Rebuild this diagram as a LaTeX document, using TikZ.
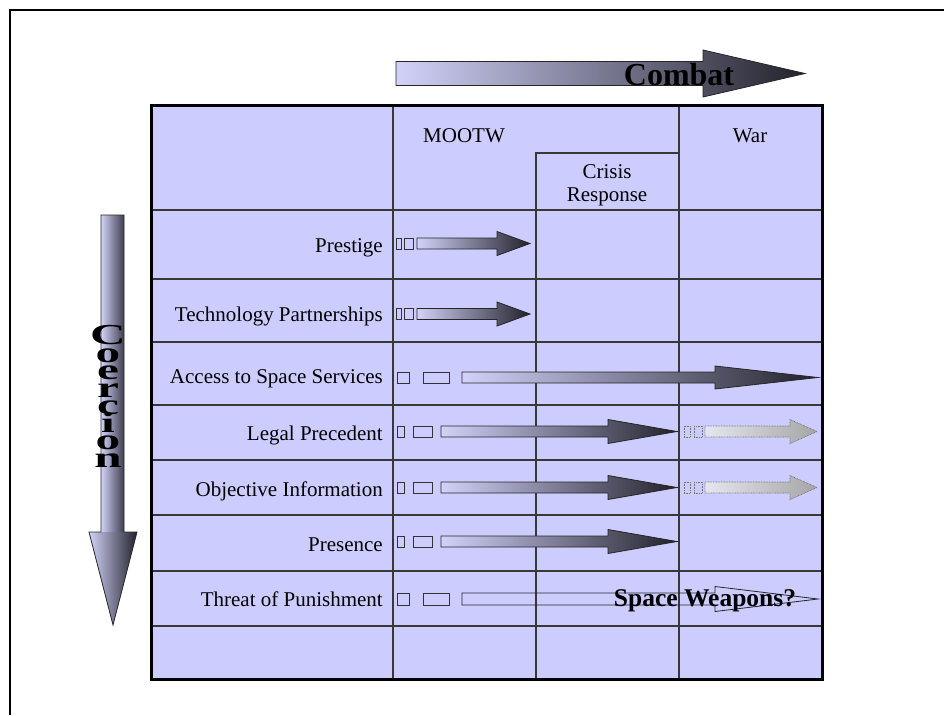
\documentclass[tikz,border=0pt]{standalone}
\usepackage{fontspec}
\setmainfont{Liberation Serif}
\definecolor{lav}{HTML}{CCCCFF}
\definecolor{lavl}{HTML}{D2D2FA}
\definecolor{dk}{HTML}{22222C}
\definecolor{gl}{HTML}{E6E6F0}
\definecolor{gd}{HTML}{A6A6A6}
\newcommand\harrow[7]{\path[#1] (#2,{#5-#6}) -- (#3,{#5-#6}) -- (#3,{#5-#7}) -- (#4,#5) -- (#3,{#5+#7}) -- (#3,{#5+#6}) -- (#2,{#5+#6}) -- cycle;}
\tikzset{
  gridline/.style={draw=black!78, line width=1.3pt},
  sq/.style={draw=black!80, line width=0.8pt},
  gsq/.style={draw=black!55, line width=0.7pt, dash pattern=on 0.8pt off 0.8pt},
  grad/.style={left color=lavl, right color=dk, draw=black!85, line width=0.8pt},
  ggrad/.style={left color=gl, right color=gd, draw=black!55, line width=0.7pt, dash pattern=on 0.8pt off 0.8pt},
  hollow/.style={draw=black!85, line width=0.8pt},
  lbl/.style={font=\fontsize{21}{24}\selectfont, inner sep=0pt, anchor=base east},
  hdr/.style={font=\fontsize{21}{24}\selectfont, inner sep=0pt, anchor=base},
  coer/.style={font={\bfseries\fontsize{29}{17.5}\selectfont\lineskiplimit=-100pt}, inner sep=0pt, align=center, xscale=1.7},
}
\begin{document}
\begin{tikzpicture}[x=1pt,y=-1pt]
\useasboundingbox (0,0) rectangle (944,715);
% outer frame
\draw[line width=1.3pt] (10,715) -- (10,10) -- (944,10);
% table
\fill[lav] (151,105) rectangle (822,679);
\foreach \yy in {210,279,342,405,460,515,571,626}
  \draw[gridline] (151,\yy) -- (822,\yy);
\draw[gridline] (393,105) -- (393,679);
\draw[gridline] (679,105) -- (679,679);
\draw[gridline] (536,679) -- (536,153) -- (679,153);
\draw[line width=3pt] (151,105) rectangle (822,679);
% header
\node[hdr] (mootw) at (464,142) {MOOTW};
\node[hdr] (war) at (750,142) {War};
\node[hdr] (crisis) at (607,178) {Crisis};
\node[hdr] (response) at (607,201) {Response};
% row labels
\node[lbl] (prestige) at (383,252) {Prestige};
\node[lbl] (tech) at (383,321) {Technology Partnerships};
\node[lbl] (access) at (383,383) {Access to Space Services};
\node[lbl] (legal) at (383,440) {Legal Precedent};
\node[lbl] (objective) at (383,496) {Objective Information};
\node[lbl] (presence) at (383,551) {Presence};
\node[lbl] (threat) at (383,606) {Threat of Punishment};
% Combat arrow
\harrow{grad}{396}{703}{805}{73.5}{12}{23.5}
\node[font=\bfseries\fontsize{32}{36}\selectfont, inner sep=0pt, anchor=base] (combat) at (679,85) {Combat};
% Coercion arrow
\shade[left color=lavl, right color=black!70!lav] (101,215) rectangle (124,532);
\shade[left color=lavl, right color=dk] (89,532) -- (137,532) -- (113,625) -- cycle;
\draw[draw=black!85, line width=0.8pt] (101,215) -- (124,215) -- (124,532) -- (137,532) -- (113,625) -- (89,532) -- (101,532) -- cycle;
\node[coer] (coercion) at (108,396.5) {C\\o\\e\\r\\c\\i\\o\\n};
% Prestige
\draw[sq] (396,238) rectangle (401,249);
\draw[sq] (404,238) rectangle (413,249);
\harrow{grad}{417}{497}{530}{243.5}{5.5}{12}
% Technology Partnerships
\draw[sq] (396,308.5) rectangle (401,319.5);
\draw[sq] (404,308.5) rectangle (413,319.5);
\harrow{grad}{417}{497}{530}{314}{5.5}{12}
% Access to Space Services
\draw[sq] (397,372) rectangle (409,383);
\draw[sq] (423,372) rectangle (449,383);
\harrow{grad}{462}{715}{818}{377.5}{5.5}{11.5}
% Legal Precedent
\draw[sq] (397,426) rectangle (404,437);
\draw[sq] (413,426) rectangle (432,437);
\harrow{grad}{441}{608}{677}{431.5}{5.5}{12}
\draw[gsq] (684,426) rectangle (690,437);
\draw[gsq] (694,426) rectangle (702,437);
\harrow{ggrad}{705}{790}{817}{431.5}{5.5}{12}
% Objective Information
\draw[sq] (397,482) rectangle (404,493);
\draw[sq] (413,482) rectangle (432,493);
\harrow{grad}{441}{608}{677}{487.5}{5.5}{12}
\draw[gsq] (684,482) rectangle (690,493);
\draw[gsq] (694,482) rectangle (702,493);
\harrow{ggrad}{705}{790}{817}{487.5}{5.5}{12}
% Presence
\draw[sq] (397,536) rectangle (404,547);
\draw[sq] (413,536) rectangle (432,547);
\harrow{grad}{441}{608}{677}{541.5}{5.5}{12}
% Threat of Punishment
\draw[sq] (397,593) rectangle (409,605);
\draw[sq] (423,593) rectangle (449,605);
\harrow{hollow}{462}{715}{818}{599}{6}{12.5}
\node[font=\bfseries\fontsize{25.5}{28}\selectfont, inner sep=0pt, anchor=base] (weapons) at (705,606) {Space Weapons?};
\end{tikzpicture}
\end{document}
